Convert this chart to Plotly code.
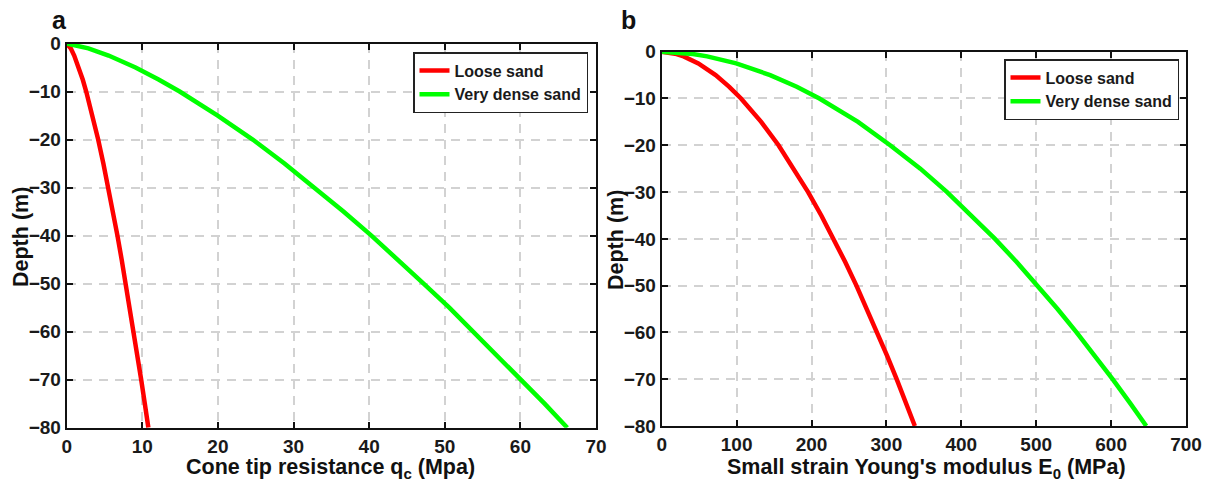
import plotly.graph_objects as go

# ---- Panel a: cone tip resistance (depth in m, qc in MPa) ----
depth_a = [0, -0.5, -1, -2.5, -5, -7.5, -10, -15, -20, -25, -30, -35, -40,
           -45, -50, -55, -60, -65, -70, -75, -80]
qc_loose = [0, 0.33, 0.53, 0.99, 1.60, 2.12, 2.58, 3.42, 4.16, 4.85, 5.50, 6.11, 6.71,
            7.27, 7.81, 8.34, 8.85, 9.36, 9.85, 10.33, 10.8]
qc_dense = [0, 1.75, 2.87, 5.54, 9.10, 12.15, 14.94, 19.97, 24.6, 28.8, 32.8, 36.6, 40.3,
            43.85, 47.2, 50.6, 53.8, 57.0, 60.1, 63.2, 66.2]

# ---- Panel b: small strain Young's modulus (depth in m, E0 in MPa) ----
depth_b = [0, -0.5, -1, -2.5, -5, -7.5, -10, -15, -20, -25, -30, -35, -40,
           -45, -50, -55, -60, -65, -70, -75, -80]
e_loose = [0, 19.9, 29.3, 48.9, 72.0, 90.2, 105.9, 132.8, 156.0, 176.6, 195.5, 213.1, 229.6,
           245.2, 260.0, 274.2, 287.9, 301.0, 313.7, 326.0, 338]
e_dense = [0, 41.7, 60.7, 99.5, 144.8, 180.3, 210.6, 262.1, 305, 345.3, 381.0, 414.0, 445.0,
           474.2, 502.0, 528.5, 553.9, 578.4, 602.0, 624.9, 647]

series_names = ["Loose sand", "Very dense sand"]
series_colors = ["#ff0000", "#00ff00"]

x_ticks_a = [0, 10, 20, 30, 40, 50, 60, 70]
x_ticks_b = [0, 100, 200, 300, 400, 500, 600, 700]
y_ticks = [0, -10, -20, -30, -40, -50, -60, -70, -80]

W, H = 1208, 488
FONT = "Arial, Liberation Sans, Helvetica, sans-serif"

fig = go.Figure()
panels = [
    ("x", "y", "legend", depth_a, [qc_loose, qc_dense]),
    ("x2", "y2", "legend2", depth_b, [e_loose, e_dense]),
]
for xa, ya, lg, depth, vals in panels:
    for xs, nm, col in zip(vals, series_names, series_colors):
        fig.add_trace(go.Scatter(
            x=xs, y=depth, mode="lines", name=nm,
            line=dict(color=col, width=4.5, shape="linear"),
            xaxis=xa, yaxis=ya, legend=lg,
        ))

def px_x(p):
    return p / W

def px_y(p):
    return 1 - p / H

axis_common = dict(
    showline=True, linecolor="#111111", linewidth=2, mirror="ticks",
    ticks="inside", ticklen=6, tickwidth=1.5, tickcolor="#111111",
    showgrid=True, gridcolor="#d2d2d2", gridwidth=1.5, griddash="9px,7px",
    zeroline=False, automargin=False,
    tickfont=dict(family=FONT, size=19, color="#1a1a1a", weight="bold"),
)

legend_common = dict(
    xanchor="right", yanchor="top",
    bgcolor="white", bordercolor="#222222", borderwidth=1.5,
    font=dict(family=FONT, size=16, color="#1a1a1a", weight="bold"),
    tracegroupgap=0, itemwidth=30,
)

fig.update_layout(
    template="none",
    width=W, height=H,
    margin=dict(l=0, r=0, t=0, b=0, autoexpand=False),
    paper_bgcolor="white", plot_bgcolor="white",
    font=dict(family=FONT, color="#1a1a1a"),
    xaxis=dict(domain=[px_x(66.7), px_x(596)], anchor="y", range=[0, 70],
               tickvals=x_ticks_a, **axis_common),
    yaxis=dict(domain=[px_y(427.7), px_y(43.5)], anchor="x", range=[-80, 0],
               tickvals=y_ticks, **axis_common),
    xaxis2=dict(domain=[px_x(661.7), px_x(1186)], anchor="y2", range=[0, 700],
                tickvals=x_ticks_b, **axis_common),
    yaxis2=dict(domain=[px_y(426), px_y(51.7)], anchor="x2", range=[-80, 0],
                tickvals=y_ticks, **axis_common),
    legend=dict(x=px_x(588), y=px_y(52), **legend_common),
    legend2=dict(x=px_x(1179), y=px_y(59), **legend_common),
    showlegend=True,
)

ann = [
    dict(text="a", x=px_x(59), y=px_y(20), size=25),
    dict(text="b", x=px_x(628), y=px_y(20), size=25),
    dict(text="Cone tip resistance q<sub>c</sub> (Mpa)", x=px_x(330), y=px_y(468), size=21.5),
    dict(text="Small strain Young's modulus E<sub>0</sub> (MPa)", x=px_x(927), y=px_y(468), size=21.5),
]
for a in ann:
    fig.add_annotation(text=a["text"], x=a["x"], y=a["y"], xref="paper", yref="paper",
                       xanchor="center", yanchor="middle", showarrow=False,
                       font=dict(family=FONT, size=a["size"], color="#111111", weight="bold"))
for xc, yc in [(21, 237), (616, 240)]:
    fig.add_annotation(text="Depth (m)", x=px_x(xc), y=px_y(yc), xref="paper", yref="paper",
                       xanchor="center", yanchor="middle", showarrow=False, textangle=-90,
                       font=dict(family=FONT, size=21.5, color="#111111", weight="bold"))

fig.write_html(
    "out.html",
    config={"displayModeBar": False},
    post_script="document.body.style.margin='0px';document.body.style.padding='0px';",
)
